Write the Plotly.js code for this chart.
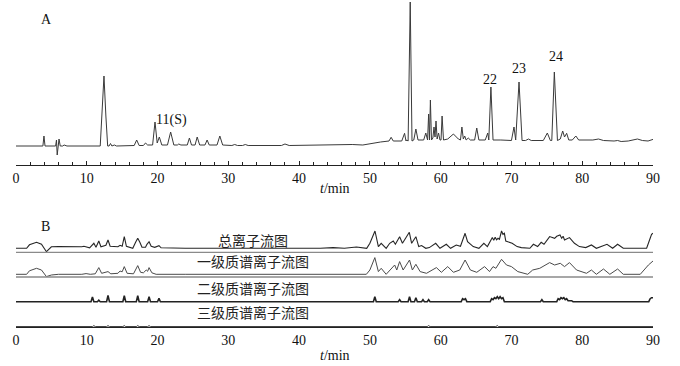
<!DOCTYPE html>
<html>
<head>
<meta charset="utf-8">
<script src="https://cdn.plot.ly/plotly-3.0.1.min.js"></script>
<style>html,body{margin:0;padding:0;background:#fff;}#chart{width:680px;height:366px;}</style>
</head>
<body>
<div id="chart"></div>
<script>
// ---------- DATA ----------
// Panel A: UV chromatogram, [time (min), signal]
const chromA = [
 [0,0],[3.8,0],[3.95,10],[4.1,0],[5.6,0],[5.72,6],[5.82,-9],[5.95,-1],[6.08,7],[6.25,0],[6.6,0],[6.8,1],[7.2,0],
 [11.9,0],[12.15,30],[12.43,70],[12.7,30],[12.95,0],[13.15,0],[13.35,2.5],[13.55,0],[13.9,1],[14.2,0],
 [16.7,0.5],[17.05,6],[17.4,0.5],[18.0,0.5],[18.3,3],[18.6,1],[19.3,1],[19.64,24],[19.95,3],[20.25,9],[20.6,1],
 [21.4,1],[21.85,14],[22.3,1],[22.8,1],[23.0,2],[23.3,1],[24.2,1],[24.5,8],[24.8,1],[25.3,1],[25.6,9],[25.95,1],
 [26.7,1],[27.0,6],[27.3,1],[28.4,1],[28.8,10],[29.2,1],[30.5,0.5],[30.9,1.5],[31.3,0.5],[32.0,0.5],[32.4,1.5],[32.8,0.5],
 [37.5,0.5],[38.0,2],[38.6,0.5],[42,1],[45.8,2],[47.5,1.5],[49,1],[50,2.5],[51.5,4],[52.7,5],[53.0,8.7],[53.3,5],
 [54.5,5],[54.9,12.7],[55.1,5],[55.2,6],[55.4,5],[55.7,144],[55.95,5],[56.2,6],[56.5,17],[56.8,6],[57.6,6],[57.9,13],
 [58.15,6],[58.3,32],[58.42,6],[58.55,46],[58.7,6],[58.9,8],[59.06,19],[59.2,9],[59.34,25],[59.5,7],[59.7,13],[59.9,6],
 [60.05,6],[60.2,30],[60.4,6],[61.0,7],[61.8,12],[62.5,7],[62.8,6],[63.0,19],[63.2,7],[63.4,10],[63.6,6],[63.9,8],
 [64.2,6],[64.8,6],[65.1,18],[65.4,6],[66.3,6],[66.65,13],[66.8,6],[67.1,59],[67.4,6],[68.5,6],[69.5,5.5],[70.0,5.5],
 [70.36,19],[70.6,6],[71.07,64],[71.5,5.5],[72.0,5.5],[72.4,7],[72.8,5.5],[74.5,5.5],[75.07,13],[75.5,5.5],[75.7,5.5],
 [76.06,74],[76.5,5.5],[76.9,7],[77.24,15],[77.5,9],[77.8,12.7],[78.1,6],[78.6,6],[79.1,10],[79.5,6],[80.5,6],
 [81.5,6],[82.3,7],[83,5.5],[84.5,5],[85.0,5.5],[85.5,4.5],[86.5,5],[87.8,7],[88.5,5.5],[89.3,5],[90,6.6]
];
const peakLabels = ['11(S)','22','23','24'];
const peakTimes  = [19.64, 67.1, 71.07, 76.06];
const peakHeights= [24, 59, 64, 74];

// Panel B: ion chromatograms, [time (min), relative intensity]
const tic = [
 [0,0],[1.5,0],[1.9,3.5],[2.9,6],[3.6,4],[4.0,0],[4.3,-3.4],[5.0,1.5],[6,1.7],[9.3,1.5],[9.6,2],[10.4,0.5],[10.8,3],
 [11.0,5],[11.3,1],[11.7,7.3],[12.0,1.5],[12.7,3],[13.0,8.3],[13.3,2],[14.4,1.5],[14.7,3],[15.0,2],[15.3,11.6],[15.6,2],
 [16.5,0],[16.9,6],[17.2,10],[17.5,6],[17.8,1],[18.3,1],[18.5,4],[18.8,6.6],[19.1,2],[19.6,1],[20.2,2.6],[20.5,0.5],
 [23.9,0],[43,0],[44.8,0.7],[46.4,0],[48.1,1.3],[49.55,0],[50.0,5],[50.72,17.3],[51.2,1.7],[51.6,5],[52.3,0],[52.8,5],
 [53.3,7.3],[53.6,4],[54.2,11.6],[54.6,5],[55.57,16],[55.9,5],[56.5,11.6],[56.9,1.7],[57.3,2.7],[57.9,0],[58.4,0.7],
 [59.3,5],[59.9,0],[60.8,4],[61.4,0],[62.2,3.3],[62.8,2],[63.45,15],[63.8,6.7],[64.6,1.7],[65.4,0],[66.1,5],[66.6,1.7],
 [67.3,10.7],[67.5,8],[67.7,11],[67.9,8.5],[68.1,10],[68.3,9],[68.6,17.3],[68.8,14],[69.0,15],[69.2,7.3],[70.1,5],
 [70.8,1.7],[71.4,0.7],[72.3,0],[72.6,0],[73.1,4],[73.7,1.7],[74.2,6],[74.6,4],[75.4,11.7],[76.1,10],[76.4,12],
 [76.86,13.3],[77.1,10],[77.3,12],[77.5,8.3],[78.2,10.7],[78.9,5],[79.6,1.7],[80.5,0.7],[81.3,3.3],[82.0,0],[83.5,4],
 [84.3,0],[85.0,4],[85.8,0],[87.7,0],[89.1,0],[89.6,10],[89.8,14],[90.0,15]
];
const ms1 = [
 [0,0],[1.5,0],[1.9,3.5],[2.9,6],[3.6,4.3],[4.0,0],[4.3,-2.3],[5.0,-0.7],[6,0],[9.3,0],[9.9,0.7],[10.5,0],[11.2,0.5],
 [11.7,6.7],[12.1,1],[13.0,2.7],[13.4,0.5],[14.4,1],[14.7,3.3],[15.0,2.5],[15.3,7.7],[15.7,1],[16.6,0.5],[17.2,8.7],
 [17.6,2],[18.0,1.5],[18.4,4.3],[18.6,3],[18.8,6.7],[19.2,1.5],[19.8,0],[23.9,0],[43,0],[45,0.7],[47,0],[48.5,0.7],
 [49.5,0],[50.0,4.3],[50.7,16.7],[51.2,2.7],[51.6,6],[52.3,0],[53.0,6],[53.5,9.3],[53.8,4.3],[54.2,12.7],[54.7,4.3],
 [55.6,14.3],[56.0,4.3],[56.5,10],[57.1,2.7],[58.0,1],[59.4,6.7],[60.1,2],[61.0,7.7],[61.8,2],[62.7,4.3],[63.45,14.3],
 [64.2,4.3],[65.1,2],[66.2,7.7],[66.9,2.7],[67.4,7.7],[67.8,6],[68.6,15],[69.3,9.3],[70.0,7.7],[70.9,2.7],[72.3,0],
 [73.0,4.3],[74.0,6],[75.4,11.7],[76.1,9.3],[76.9,11],[77.5,7.7],[78.2,11.7],[79.2,4.3],[80.6,1],[81.3,4.3],[82.0,0],
 [83.0,5.3],[83.9,0],[85.0,5.3],[85.8,0],[88.2,0],[89.35,9.3],[90,13.3]
];
const ms2 = [
 [0,0],[10.6,0],[10.8,4.7],[11.0,0],[11.5,0],[11.7,1.5],[11.9,0],[12.8,0],[13.0,6.3],[13.2,0],[15.1,0],[15.3,6],[15.5,0],
 [17.0,0],[17.2,6],[17.4,0],[18.6,0],[18.8,5],[19.0,0],[20.0,0],[20.2,3.5],[20.4,0],[50.5,0],[50.7,5],[50.9,0],
 [54.0,0],[54.2,2],[54.4,0],[55.4,0],[55.6,5],[55.8,0],[56.3,0],[56.5,4],[56.7,0],[57.3,0],[57.5,2],[57.7,0],[58.1,0],
 [58.3,2],[58.5,0],[62.9,0],[63.1,3],[63.3,2],[63.5,3],[63.7,0],[67.0,0],[67.2,3],[67.4,2],[67.6,4],[67.8,3],[68.0,5],
 [68.2,3],[68.4,5],[68.6,3],[68.8,4],[69.0,0],[74.1,0],[74.3,2],[74.5,0],[76.4,0],[76.6,3],[76.8,2],[77.0,4],[77.2,3],
 [77.4,4],[77.6,2],[77.8,3],[78.0,1],[78.5,1],[78.7,0],[89.4,0],[89.6,3],[89.8,4],[90,4]
];
const ms3 = [
 [0,0],[10.8,0],[11,1],[11.2,0],[12.8,0],[13,1],[13.2,0],[15.1,0],[15.3,1],[15.5,0],[17.0,0],[17.2,1],[17.4,0],
 [18.6,0],[18.8,1],[19,0],[58.1,0],[58.3,1],[58.5,0],[67.8,0],[68,1],[68.2,0],[90,0]
];
const traceNamesB = ['总离子流图','一级质谱离子流图','二级质谱离子流图','三级质谱离子流图'];
const xTicks = [0,10,20,30,40,50,60,70,80,90];

// ---------- LAYOUT / STYLE ----------
const serif = 'Liberation Serif, Times New Roman, serif';
const cjk = 'Noto Sans CJK SC, sans-serif';
const offsetsB = [78.7, 52.7, 25.3, 0.4];      // vertical stacking of B traces (layout)
const baseLinesB = [74.7, 50.0];                // grey reference lines under TIC / MS1
const labelYB = [87, 66, 39, 15];
const labelTB = 33.5;

function xs(a){return a.map(p=>p[0]);}
function ys(a,off){return a.map(p=>p[1]+(off||0));}

const traces = [
 {x: xs(chromA), y: ys(chromA), xaxis:'x', yaxis:'y', mode:'lines', line:{color:'#3a3a3a', width:1}, hoverinfo:'skip'}
];
const seriesB = [tic, ms1, ms2, ms3];
const stylesB = [
 {color:'#262626', width:1.1},
 {color:'#4a4a4a', width:1},
 {color:'#222222', width:1.6},
 {color:'#333333', width:1}
];
seriesB.forEach((s,i)=>{
  traces.push({x: xs(s), y: ys(s, offsetsB[i]), xaxis:'x2', yaxis:'y2', mode:'lines', line: stylesB[i], hoverinfo:'skip'});
});

const shapes = baseLinesB.map(v=>({type:'line', xref:'x2', yref:'y2', x0:0, x1:90, y0:v, y1:v, line:{color:'#8a8a8a', width:1.3}}));

const annotations = [];
const shiftA = [{xa:'left', xs:-1, ys:2}, {xa:'center', xs:-1, ys:8}, {xa:'center', xs:0, ys:14}, {xa:'center', xs:2, ys:16}];
peakLabels.forEach((t,i)=>{
  annotations.push({text:t, x:peakTimes[i], y:peakHeights[i], xref:'x', yref:'y', showarrow:false,
    xanchor:shiftA[i].xa, yanchor:'middle', xshift:shiftA[i].xs, yshift:shiftA[i].ys,
    font:{family:serif, size:14, color:'#111'}});
});
traceNamesB.forEach((t,i)=>{
  annotations.push({text:t, x:labelTB, y:labelYB[i], xref:'x2', yref:'y2', showarrow:false,
    xanchor:'center', yanchor:'middle', font:{family:cjk, size:14, color:'#222'}});
});
annotations.push({text:'A', x:(46-16)/637, y:1-20/366, xref:'paper', yref:'paper', showarrow:false, xanchor:'center', yanchor:'middle', font:{family:serif, size:14, color:'#111'}});
annotations.push({text:'B', x:(45-16)/637, y:1-226/366, xref:'paper', yref:'paper', showarrow:false, xanchor:'center', yanchor:'middle', font:{family:serif, size:14, color:'#111'}});
annotations.push({text:'<i>t</i>/min', x:0.5, y:1-188/366, xref:'paper', yref:'paper', showarrow:false, xanchor:'center', yanchor:'middle', font:{family:serif, size:14, color:'#111'}});
annotations.push({text:'<i>t</i>/min', x:0.5, y:1-355/366, xref:'paper', yref:'paper', showarrow:false, xanchor:'center', yanchor:'middle', font:{family:serif, size:14, color:'#111'}});

const baseX = {
  range:[0,90], tickvals:xTicks, ticktext:xTicks.map(String), showgrid:false, zeroline:false,
  showline:true, linecolor:'#222', linewidth:1, tickfont:{family:serif, size:14, color:'#111'}
};

const layout = {
  width:680, height:366, margin:{l:16, r:27, t:0, b:0},
  paper_bgcolor:'#fff', plot_bgcolor:'#fff', showlegend:false,
  xaxis: Object.assign({}, baseX, {anchor:'y', ticks:'inside', ticklen:4, tickcolor:'#222',
    minor:{dtick:2, tick0:0, ticks:'inside', ticklen:3, tickcolor:'#222', showgrid:false}}),
  yaxis: {domain:[1-165/366, 1], range:[-19,146], visible:false, fixedrange:true},
  xaxis2: Object.assign({}, baseX, {anchor:'y2', ticks:''}),
  yaxis2: {domain:[1-327/366, 1-215/366], range:[0,112], visible:false},
  shapes: shapes,
  annotations: annotations
};

Plotly.newPlot('chart', traces, layout, {staticPlot:true, displayModeBar:false});
</script>
</body>
</html>
